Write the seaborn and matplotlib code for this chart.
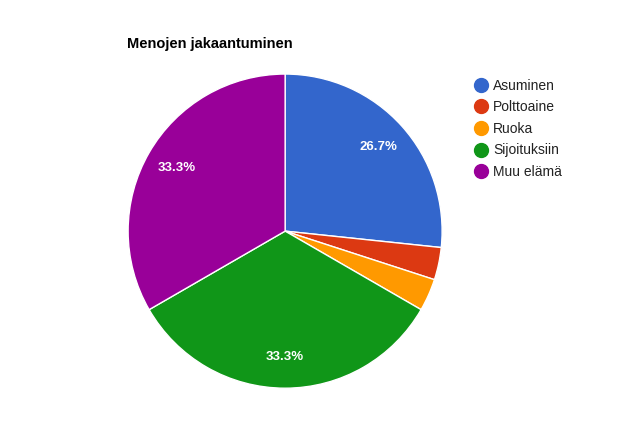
import matplotlib
matplotlib.use("Agg")
import matplotlib.pyplot as plt
from matplotlib.lines import Line2D
import seaborn as sns

# Data
categories = ["Asuminen", "Polttoaine", "Ruoka", "Sijoituksiin", "Muu elämä"]
values = [8, 1, 1, 10, 10]
colors = ["#3366cc", "#dc3912", "#ff9900", "#109618", "#990099"]
title = "Menojen jakaantuminen"

sns.set_theme(style="white")
plt.rcParams["font.family"] = ["Arial", "Liberation Sans", "DejaVu Sans"]

fig = plt.figure(figsize=(6.28, 4.28), dpi=100)
ax = fig.add_axes([0.204, 0.093, 0.5, 0.734])

wedges, texts, autotexts = ax.pie(
    values,
    colors=colors,
    startangle=90,
    counterclock=False,
    autopct=lambda p: f"{p:.1f}%" if p > 5 else "",
    pctdistance=0.8,
    wedgeprops={"edgecolor": "white", "linewidth": 1},
    textprops={"color": "white", "fontsize": 9.5, "fontweight": "bold"},
)
ax.set_aspect("auto")
ax.set_xlim(-1, 1)
ax.set_ylim(-1, 1)

fig.text(127 / 628, 1 - 44 / 428, title, fontsize=10.5, fontweight="bold",
         color="black", ha="left", va="center")

handles = [Line2D([0], [0], marker="o", linestyle="", markersize=10,
                  markerfacecolor=c, markeredgecolor=c) for c in colors]
fig.legend(handles, categories, loc="upper left", bbox_to_anchor=(460 / 628, 1 - 66 / 428),
           frameon=False, fontsize=10, labelcolor="#222222", handletextpad=0.3,
           labelspacing=0.55, handlelength=1.2)

plt.savefig("out.png", dpi=100)
plt.close(fig)
